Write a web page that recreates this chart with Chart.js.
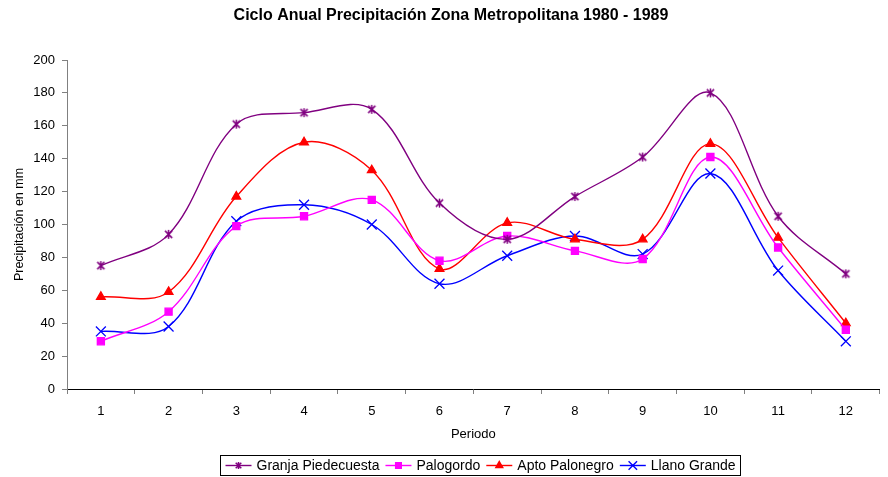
<!DOCTYPE html>
<html>
<head>
<meta charset="utf-8">
<title>Ciclo Anual Precipitación</title>
<script src="https://cdn.jsdelivr.net/npm/chart.js@4.4.1/dist/chart.umd.min.js"></script>
<style>
  html, body { margin: 0; padding: 0; background: #fff; }
  #wrap { width: 888px; height: 477px; position: relative; }
</style>
</head>
<body>
<div id="wrap"><canvas id="rainChart"></canvas></div>
<script>
// monthly rainfall, 1980 - 1989 averages (mm)
const chartTitle = "Ciclo Anual Precipitación Zona Metropolitana 1980 - 1989";
const periods = ["1", "2", "3", "4", "5", "6", "7", "8", "9", "10", "11", "12"];
const granjaPiedecuesta = [75, 94, 161, 168, 170, 113, 91, 117, 141, 180, 105, 70];
const palogordo = [29, 47, 99, 105, 115, 78, 93, 84, 79, 141, 86, 36];
const aptoPalonegro = [56, 59, 117, 150, 133, 73, 101, 91, 91, 149, 92, 40];
const llanoGrande = [35, 38, 102, 112, 100, 64, 81, 93, 82, 131, 72, 29];
const yMin = 0, yMax = 200, yStep = 20;

const FONT = '"Liberation Sans", Arial, sans-serif';

// six-armed asterisk marker
function makeStar(color, size) {
    const c = document.createElement("canvas");
    c.width = size; c.height = size;
    const g = c.getContext("2d");
    const m = size / 2, r = size / 2 - 1;
    g.strokeStyle = color;
    g.lineWidth = 1.5;
    g.beginPath();
    g.moveTo(m - r * 0.8, m - r * 0.8); g.lineTo(m + r * 0.8, m + r * 0.8);
    g.moveTo(m + r * 0.8, m - r * 0.8); g.lineTo(m - r * 0.8, m + r * 0.8);
    g.moveTo(m, m - r); g.lineTo(m, m + r);
    g.stroke();
    return c;
}

const starBig = makeStar("#800080", 11);
const starSmall = makeStar("#800080", 9);

function series(label, data, color, pointStyle, radius) {
    return {
        label: label,
        data: data,
        borderColor: color,
        backgroundColor: color,
        pointBackgroundColor: color,
        pointBorderColor: color,
        pointStyle: pointStyle,
        pointRadius: radius,
        pointHoverRadius: radius,
        pointBorderWidth: 1.3,
        borderWidth: 1.4,
        tension: 0.35,
        fill: false
    };
}

const datasets = [
    series("Granja Piedecuesta", granjaPiedecuesta, "#800080", starBig, 5),
    series("Palogordo", palogordo, "#FF00FF", "rect", 5),
    series("Apto Palonegro", aptoPalonegro, "#FF0000", "triangle", 5),
    series("Llano Grande", llanoGrande, "#0000FF", "crossRot", 7)
];

// title and boxed legend drawn on the canvas
const decorations = {
    id: "decorations",
    afterDraw(chart) {
        const ctx = chart.ctx;
        ctx.save();
        ctx.fillStyle = "#000";
        ctx.textAlign = "center";
        ctx.textBaseline = "middle";
        ctx.font = "bold 16px " + FONT;
        ctx.fillText(chartTitle, 451, 16);

        ctx.font = "14px " + FONT;
        const lineLen = 26, afterLine = 5, gap = 6, padX = 5;
        const items = chart.data.datasets.map(ds => ({ ds, w: ctx.measureText(ds.label).width }));
        let total = 0;
        items.forEach((it, i) => { total += lineLen + afterLine + it.w + (i ? gap : 0); });
        const boxW = Math.round(total + padX * 2);
        const boxX = Math.round(480 - boxW / 2) + 0.5;
        const boxY = 455.5, boxH = 20;
        ctx.strokeStyle = "#000";
        ctx.lineWidth = 1;
        ctx.strokeRect(boxX, boxY, boxW, boxH);

        const cy = boxY + boxH / 2;
        let x = boxX + padX;
        ctx.textAlign = "left";
        items.forEach(({ ds, w }) => {
            ctx.strokeStyle = ds.borderColor;
            ctx.lineWidth = 1.4;
            ctx.beginPath();
            ctx.moveTo(x, cy);
            ctx.lineTo(x + lineLen, cy);
            ctx.stroke();
            const mx = x + lineLen / 2;
            if (ds.pointStyle === starBig) {
                ctx.drawImage(starSmall, mx - starSmall.width / 2, cy - starSmall.height / 2);
            } else {
                ctx.fillStyle = ds.borderColor;
                Chart.helpers.drawPoint(ctx, {
                    pointStyle: ds.pointStyle,
                    radius: ds.pointStyle === "crossRot" ? 6 : 4,
                    borderWidth: 1.3,
                    rotation: 0
                }, mx, cy);
                if (ds.pointStyle !== "crossRot") ctx.fill();
            }
            ctx.fillStyle = "#000";
            ctx.fillText(ds.label, x + lineLen + afterLine, cy + 0.5);
            x += lineLen + afterLine + w + gap;
        });
        ctx.restore();
    }
};

const ctx = document.getElementById("rainChart").getContext("2d");
const rainChart = new Chart(ctx, {
    type: "line",
    data: { labels: periods, datasets: datasets },
    options: {
        responsive: true,
        maintainAspectRatio: false,
        animation: false,
        layout: { padding: { left: 0, right: 8, top: 60, bottom: 34 } },
        plugins: {
            legend: { display: false },
            title: { display: false },
            tooltip: { enabled: false }
        },
        scales: {
            x: {
                offset: true,
                afterFit: s => { s.height = 54; },
                grid: {
                    offset: true,
                    drawOnChartArea: false,
                    drawTicks: true,
                    tickLength: 5,
                    color: "#808080"
                },
                border: { color: "#000", width: 1 },
                ticks: {
                    color: "#000",
                    padding: 10,
                    maxRotation: 0,
                    font: { family: FONT, size: 13 }
                },
                title: {
                    display: true,
                    text: "Periodo",
                    color: "#000",
                    padding: { top: 0, bottom: 1 },
                    font: { family: FONT, size: 13 }
                }
            },
            y: {
                min: yMin,
                max: yMax,
                afterFit: s => { s.width = 67; },
                grid: {
                    drawOnChartArea: false,
                    drawTicks: true,
                    tickLength: 5,
                    color: "#808080"
                },
                border: { color: "#808080", width: 1 },
                ticks: {
                    stepSize: yStep,
                    color: "#000",
                    padding: 7,
                    font: { family: FONT, size: 13 }
                },
                title: {
                    display: true,
                    text: "Precipitación en mm",
                    color: "#000",
                    padding: { top: 12, bottom: 0 },
                    font: { family: FONT, size: 12.5 }
                }
            }
        }
    },
    plugins: [decorations]
});
</script>
</body>
</html>
